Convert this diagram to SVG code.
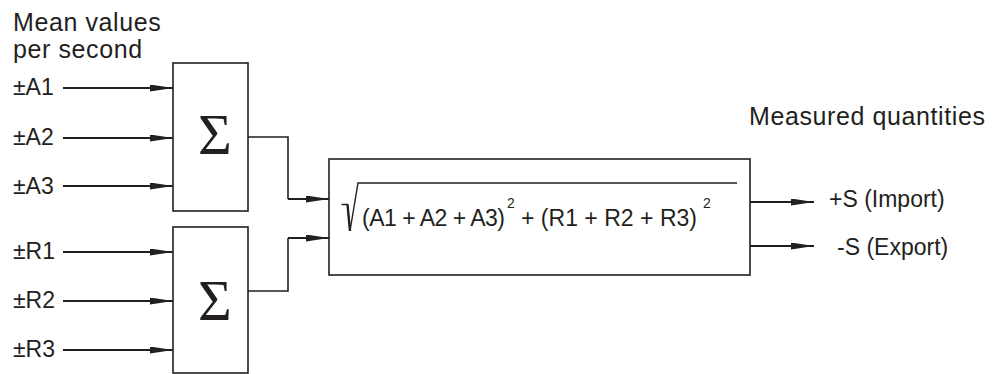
<svg xmlns="http://www.w3.org/2000/svg" width="998" height="374" viewBox="0 0 998 374">
<defs>
<style>
.t{font-family:"Liberation Sans",Arial,sans-serif;font-size:23px;fill:#231f20}
.h{font-family:"Liberation Sans",Arial,sans-serif;font-size:25px;letter-spacing:0.6px;fill:#231f20}
.sup{font-family:"Liberation Sans",Arial,sans-serif;font-size:14px;fill:#231f20}
.sig{font-family:"Liberation Serif","Times New Roman",serif;font-size:58px;fill:#231f20}
.box{fill:#fff;stroke:#231f20;stroke-width:1.6}
.in{fill:none;stroke:#231f20;stroke-width:2.2;marker-end:url(#ah)}
.cn{fill:none;stroke:#231f20;stroke-width:1.6}
</style>
<marker id="ah" markerUnits="userSpaceOnUse" markerWidth="24" markerHeight="8" refX="23" refY="3.5" orient="auto">
<path d="M0,0 L23,3.5 L0,7 Z" fill="#231f20"/>
</marker>
</defs>
<rect width="998" height="374" fill="#fff"/>
<g id="heading-in">
<text class="h" x="13" y="31">Mean values</text>
<text class="h" x="13" y="58">per second</text>
</g>
<g id="heading-out"><text class="h" x="749" y="125">Measured quantities</text></g>
<g id="labels">
<text class="t" x="13" y="95">±A1</text>
<text class="t" x="13" y="145">±A2</text>
<text class="t" x="13" y="194">±A3</text>
<text class="t" x="13" y="259">±R1</text>
<text class="t" x="13" y="308">±R2</text>
<text class="t" x="13" y="357">±R3</text>
</g>
<g id="sumA">
<rect class="box" x="173" y="63" width="75" height="148"/>
<text class="sig" x="215" y="154" text-anchor="middle">Σ</text>
</g>
<g id="sumR">
<rect class="box" x="173" y="227" width="75" height="146"/>
<text class="sig" x="215" y="320" text-anchor="middle">Σ</text>
</g>
<g id="calc">
<rect class="box" x="329" y="159" width="421" height="116"/>
<path d="M341.5,204.5 L347.5,204.5 L350,231 L358,183 L737,183" fill="none" stroke="#231f20" stroke-width="1.4"/>
<path d="M347.5,204.5 L350,231" fill="none" stroke="#231f20" stroke-width="2.4"/>
<text class="t" x="362" y="226" textLength="143" lengthAdjust="spacing">(A1 + A2 + A3)</text>
<text class="sup" x="507" y="208">2</text>
<text class="t" x="521" y="226" textLength="176" lengthAdjust="spacing">+ (R1 + R2 + R3)</text>
<text class="sup" x="703" y="208">2</text>
</g>
<g id="outputs">
<text class="t" x="829" y="207">+S (Import)</text>
<text class="t" x="837" y="255">-S (Export)</text>
</g>
<g id="connectors">
<line class="in" x1="63" y1="88" x2="173" y2="88"/>
<line class="in" x1="63" y1="138" x2="173" y2="138"/>
<line class="in" x1="63" y1="186" x2="173" y2="186"/>
<line class="in" x1="63" y1="252" x2="173" y2="252"/>
<line class="in" x1="63" y1="301" x2="173" y2="301"/>
<line class="in" x1="63" y1="350" x2="173" y2="350"/>
<path class="cn" d="M248,137 H288 V199"/>
<line class="in" x1="288" y1="199" x2="329" y2="199"/>
<path class="cn" d="M248,291 H288 V238"/>
<line class="in" x1="288" y1="238" x2="329" y2="238"/>
<line class="in" x1="750" y1="202" x2="814" y2="202"/>
<line class="in" x1="750" y1="246" x2="814" y2="246"/>
</g>
</svg>
